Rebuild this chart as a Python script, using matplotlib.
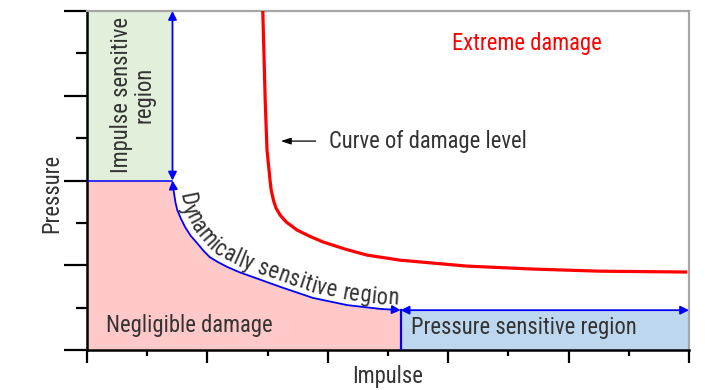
import numpy as np
import matplotlib
matplotlib.use("Agg")
import matplotlib.pyplot as plt
from matplotlib import font_manager as fm
from matplotlib.patches import FancyArrowPatch, Rectangle
from matplotlib.path import Path
from matplotlib.ticker import MultipleLocator
from matplotlib.font_manager import FontProperties

# ---------------- data ----------------
# damage-level curve (red)
damage_x = [2.92, 2.96, 2.99, 3.02, 3.04, 3.06, 3.10, 3.14, 3.21, 3.31, 3.49, 3.69, 3.92, 4.29, 4.65, 5.20, 6.31, 7.41, 8.52, 9.97]
damage_y = [8.00, 5.90, 4.72, 4.30, 4.01, 3.77, 3.52, 3.35, 3.18, 3.02, 2.83, 2.69, 2.55, 2.38, 2.24, 2.12, 1.98, 1.91, 1.86, 1.84]

# boundary of negligible-damage region (blue curve)
bound_x = [1.42, 1.43, 1.45, 1.47, 1.50, 1.56, 1.63, 1.72, 1.83, 1.93, 2.04, 2.18, 2.33, 2.54, 2.76, 3.21, 3.75, 4.32, 4.87, 5.21]
bound_y = [4.00, 3.85, 3.66, 3.48, 3.30, 3.10, 2.90, 2.70, 2.52, 2.35, 2.19, 2.07, 1.96, 1.83, 1.72, 1.49, 1.23, 1.06, 0.97, 0.94]

impulse_limit = 1.42     # impulse asymptote
pressure_limit = 0.94    # pressure asymptote
pressure_top = 4.0
x_max, y_max = 10, 8

labels = {
    "impulse": "Impulse sensitive\nregion",
    "negligible": "Negligible damage",
    "pressure": "Pressure sensitive region",
    "dynamic": "Dynamically sensitive region",
    "curve": "Curve of damage level",
    "extreme": "Extreme damage",
    "xlabel": "Impulse",
    "ylabel": "Pressure",
}

# ---------------- fonts: prefer a narrow sans ----------------
def pick_font():
    bad = ("bold", "italic", "oblique", "light", "thin", "medium", "black",
           "semi", "extra", "ultra", "heavy", "demi")
    prefs = ["liberation sans narrow", "arial narrow", "roboto condensed", "noto sans",
             "open sans", "lato", "dejavu sans"]
    found = []
    for f in fm.fontManager.ttflist:
        fn = f.fname.lower().split("/")[-1]
        if ("narrow" in fn or "condensed" in fn) and not any(b in fn for b in bad) \
                and f.style == "normal":
            nm = f.name.lower()
            rank = len(prefs)
            for r, p in enumerate(prefs):
                if nm.startswith(p) or p.replace(" ", "") in fn.replace("-", "").replace("_", ""):
                    rank = r
                    break
            found.append((rank, f.fname))
    if found:
        found.sort()
        return FontProperties(fname=found[0][1])
    return FontProperties(family="Liberation Sans")


BASEFP = pick_font()
TXT = "#333333"
BLUE = "#0000ff"

W, H = 728, 390
fig = plt.figure(figsize=(W / 100, H / 100), dpi=100)
renderer = fig.canvas.get_renderer()

# calibrate size so that "Negligible damage" is ~166 px wide like the reference
_fp = BASEFP.copy()
_fp.set_size(10)
_w10 = renderer.get_text_width_height_descent(labels["negligible"], _fp, ismath=False)[0]
FS = min(10 * 166 / _w10, 17.5)
FP = BASEFP.copy()
FP.set_size(FS)

ax = fig.add_axes([87 / W, 1 - 350 / H, (689 - 87) / W, (350 - 11) / H])
ax.set_xlim(0, x_max)
ax.set_ylim(0, y_max)

# regions
ax.add_patch(Rectangle((0, pressure_top), impulse_limit, y_max - pressure_top,
                       facecolor="#e2efda", edgecolor="none", zorder=1))
poly_x = [0, 0] + bound_x + [bound_x[-1]]
poly_y = [0, pressure_top] + bound_y + [0]
ax.fill(poly_x, poly_y, facecolor="#ffc9c9", edgecolor="none", zorder=1)
ax.add_patch(Rectangle((bound_x[-1], 0), x_max - bound_x[-1], pressure_limit,
                       facecolor="#bdd7ee", edgecolor="none", zorder=1))

# blue boundaries
ax.plot([0, impulse_limit], [pressure_top, pressure_top], color=BLUE, lw=1.1, zorder=3)
ax.plot([bound_x[-1], bound_x[-1]], [0, pressure_limit], color=BLUE, lw=1.6, zorder=3)
astyle = "<|-|>,head_length=0.5,head_width=0.25"
ax.add_patch(FancyArrowPatch(path=Path(np.column_stack([bound_x, bound_y])),
                             arrowstyle=astyle, mutation_scale=10, color=BLUE, lw=1.3,
                             joinstyle="round", zorder=4))
ax.add_patch(FancyArrowPatch((impulse_limit, pressure_top), (impulse_limit, y_max),
                             arrowstyle=astyle, mutation_scale=10, color=BLUE, lw=1.3,
                             shrinkA=0, shrinkB=0, zorder=4))
ax.add_patch(FancyArrowPatch((bound_x[-1], pressure_limit), (x_max, pressure_limit),
                             arrowstyle=astyle, mutation_scale=10, color=BLUE, lw=1.3,
                             shrinkA=0, shrinkB=0, zorder=4))

# red damage curve
ax.plot(damage_x, damage_y, color="#ff0000", lw=2.3, zorder=5,
        solid_capstyle="butt", solid_joinstyle="round")

# texts
ax.text(0.76, 6.01, labels["impulse"], rotation=90, ha="center", va="center",
        fontproperties=FP, color=TXT, linespacing=1.0, multialignment="center", zorder=6)
ax.text(0.32, 0.57, labels["negligible"], ha="left", va="center", fontproperties=FP, color=TXT, zorder=6)
ax.text(5.38, 0.52, labels["pressure"], ha="left", va="center", fontproperties=FP, color=TXT, zorder=6)
ax.text(6.06, 7.24, labels["extreme"], ha="left", va="center", fontproperties=FP, color="#ff0000", zorder=6)
ax.text(4.02, 4.93, labels["curve"], ha="left", va="center", fontproperties=FP, color=TXT, zorder=6)
ax.annotate("", xy=(3.22, 4.93), xytext=(3.80, 4.93),
            arrowprops=dict(arrowstyle="-|>,head_length=0.6,head_width=0.2", color="black",
                            lw=0.9, mutation_scale=10, shrinkA=0, shrinkB=0), zorder=6)

fig.text(52 / W, 1 - 193 / H, labels["ylabel"], rotation=90, ha="center", va="center",
         fontproperties=FP, color=TXT)
fig.text(388 / W, 1 - 376 / H, labels["xlabel"], ha="center", va="center",
         fontproperties=FP, color=TXT)


# curved text along the blue boundary
def curved_text(ax, xs, ys, text, d_px, start_px, end_gap_px, prop, color):
    P = ax.transData.transform(np.column_stack([xs, ys]))
    seg = np.hypot(*np.diff(P, axis=0).T)
    s = np.concatenate([[0], np.cumsum(seg)])
    sd = np.arange(0, s[-1], 0.5)
    D = np.column_stack([np.interp(sd, s, P[:, 0]), np.interp(sd, s, P[:, 1])])
    k = 20
    i = np.arange(len(D))
    a = np.clip(i - k, 0, len(D) - 1)
    b = np.clip(i + k, 0, len(D) - 1)
    T = D[b] - D[a]
    T /= np.hypot(T[:, 0], T[:, 1])[:, None]
    N = np.column_stack([-T[:, 1], T[:, 0]])
    Q = D + d_px * N
    sq = np.concatenate([[0], np.cumsum(np.hypot(*np.diff(Q, axis=0).T))])

    def wid(t):
        return renderer.get_text_width_height_descent(t, prop, ismath=False)[0]

    total = wid(text)
    avail = sq[-1] - end_gap_px - start_px
    track = (avail - total) / (len(text) - 1)
    inv = ax.transData.inverted()
    for j, ch in enumerate(text):
        if ch == " ":
            continue
        right = wid(text[:j + 1])
        c = start_px + right - wid(ch) / 2 + track * j
        x = np.interp(c, sq, Q[:, 0])
        y = np.interp(c, sq, Q[:, 1])
        idx = int(np.clip(np.searchsorted(sq, c), 0, len(Q) - 1))
        ang = np.degrees(np.arctan2(T[idx, 1], T[idx, 0]))
        xd, yd = inv.transform((x, y))
        ax.text(xd, yd, ch, fontproperties=prop, color=color, rotation=ang,
                rotation_mode="anchor", ha="center", va="baseline", zorder=6)


curved_text(ax, bound_x, bound_y, labels["dynamic"], 5, 14, 2, FP, TXT)

# axes styling
for side in ["left", "bottom"]:
    ax.spines[side].set_linewidth(1.8)
    ax.spines[side].set_color("black")
for side in ["top", "right"]:
    ax.spines[side].set_linewidth(1.6)
    ax.spines[side].set_color("#a6a6a6")
ax.xaxis.set_major_locator(MultipleLocator(2))
ax.xaxis.set_minor_locator(MultipleLocator(1))
ax.yaxis.set_major_locator(MultipleLocator(2))
ax.yaxis.set_minor_locator(MultipleLocator(1))
ax.tick_params(axis="x", which="major", direction="out", length=9, width=1.6,
               labelbottom=False, top=False)
ax.tick_params(axis="x", which="minor", direction="out", length=4.5, width=1.6, top=False)
ax.tick_params(axis="y", which="major", direction="out", length=16.5, width=1.6,
               labelleft=False, right=False)
ax.tick_params(axis="y", which="minor", direction="out", length=8, width=1.6, right=False)

fig.savefig("out.png", dpi=100)
